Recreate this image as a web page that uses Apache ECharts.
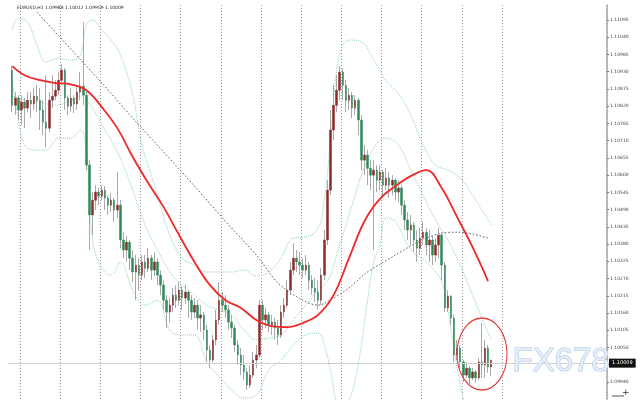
<!DOCTYPE html>
<html><head><meta charset="utf-8">
<script src="https://cdn.jsdelivr.net/npm/echarts@6/dist/echarts.min.js"></script>
<style>html,body{margin:0;padding:0;background:#fff}#c{width:640px;height:400px}</style>
</head><body><div id="c"></div>
<script>
const titleText = 'EURUSD,H1 1.09988 1.10012 1.09959 1.10009';
const lastPrice = 1.10009;
const axisMin = 1.09885, axisMax = 1.11143, tickStep = 0.00055;
const slotCount = 194;

const opens = [
1.10935,1.10823,1.10846,1.10808,1.10833,1.10814,1.10839,1.10827,1.10852,1.10839,
1.10808,1.10769,1.10750,1.10839,1.10852,1.10871,1.10903,1.10935,1.10846,1.10820,
1.10846,1.10827,1.10865,1.10884,1.10855,1.10632,1.10473,1.10520,1.10546,1.10533,
1.10552,1.10527,1.10504,1.10520,1.10489,1.10504,1.10393,1.10361,1.10386,1.10335,
1.10291,1.10313,1.10281,1.10323,1.10303,1.10335,1.10297,1.10323,1.10281,1.10249,
1.10201,1.10163,1.10185,1.10217,1.10201,1.10233,1.10208,1.10227,1.10201,1.10163,
1.10185,1.10144,1.10154,1.10106,1.10042,1.10010,1.10074,1.10138,1.10201,1.10185,
1.10170,1.10131,1.10112,1.10058,1.10026,1.09994,1.09972,1.09930,1.09962,1.10010,
1.10026,1.10185,1.10138,1.10154,1.10122,1.10131,1.10112,1.10090,1.10163,1.10185,
1.10233,1.10297,1.10335,1.10323,1.10313,1.10297,1.10313,1.10265,1.10240,1.10227,
1.10201,1.10281,1.10393,1.10552,1.10744,1.10823,1.10871,1.10929,1.10887,1.10839,
1.10855,1.10814,1.10839,1.10776,1.10648,1.10664,1.10622,1.10600,1.10616,1.10584,
1.10610,1.10568,1.10591,1.10568,1.10584,1.10546,1.10559,1.10504,1.10457,1.10425,
1.10441,1.10393,1.10367,1.10399,1.10418,1.10377,1.10393,1.10345,1.10377,1.10409,
1.10313,1.10176,1.10214,1.10144,1.10026,1.10048,1.10004,1.09962,1.09984,1.09953,
1.09972,1.09953,1.10004,1.09994,1.10048,1.09988];
const highs = [
1.10948,1.10865,1.10855,1.10855,1.10846,1.10865,1.10865,1.10878,1.10887,1.10878,
1.10839,1.10919,1.10865,1.10919,1.10903,1.10929,1.10954,1.10941,1.10855,1.10878,
1.10855,1.10887,1.10929,1.11088,1.10871,1.10648,1.10546,1.10568,1.10559,1.10568,
1.10565,1.10536,1.10543,1.10527,1.10610,1.10520,1.10418,1.10406,1.10393,1.10361,
1.10345,1.10335,1.10345,1.10345,1.10367,1.10345,1.10355,1.10335,1.10297,1.10265,
1.10217,1.10208,1.10240,1.10249,1.10259,1.10246,1.10252,1.10233,1.10217,1.10208,
1.10201,1.10185,1.10163,1.10122,1.10058,1.10090,1.10170,1.10259,1.10227,1.10217,
1.10185,1.10154,1.10122,1.10074,1.10048,1.10026,1.09984,1.09994,1.10036,1.10058,
1.10201,1.10201,1.10176,1.10163,1.10154,1.10144,1.10138,1.10185,1.10208,1.10265,
1.10323,1.10383,1.10361,1.10355,1.10335,1.10345,1.10323,1.10281,1.10272,1.10265,
1.10303,1.10425,1.10584,1.10808,1.10887,1.10919,1.10948,1.10941,1.10903,1.10878,
1.10865,1.10855,1.10846,1.10792,1.10696,1.10680,1.10648,1.10648,1.10632,1.10632,
1.10616,1.10622,1.10610,1.10600,1.10591,1.10584,1.10568,1.10520,1.10482,1.10473,
1.10450,1.10425,1.10431,1.10450,1.10431,1.10425,1.10409,1.10399,1.10431,1.10418,
1.10323,1.10233,1.10217,1.10154,1.10074,1.10058,1.10010,1.10004,1.09991,1.09984,
1.09978,1.10016,1.10128,1.10074,1.10058,1.10012];
const lows = [
1.10801,1.10792,1.10776,1.10760,1.10750,1.10801,1.10782,1.10808,1.10801,1.10744,
1.10728,1.10689,1.10737,1.10814,1.10839,1.10855,1.10887,1.10808,1.10792,1.10801,
1.10798,1.10808,1.10839,1.10823,1.10616,1.10361,1.10409,1.10489,1.10504,1.10520,
1.10489,1.10473,1.10482,1.10450,1.10463,1.10367,1.10335,1.10323,1.10297,1.10259,
1.10201,1.10233,1.10265,1.10272,1.10291,1.10265,1.10278,1.10249,1.10217,1.10170,
1.10112,1.10131,1.10163,1.10176,1.10185,1.10170,1.10189,1.10144,1.10138,1.10144,
1.10106,1.10099,1.10074,1.10004,1.09984,1.10004,1.10058,1.10122,1.10163,1.10144,
1.10106,1.10080,1.10036,1.09994,1.09962,1.09946,1.09914,1.09921,1.09953,1.09984,
1.10016,1.10106,1.10112,1.10099,1.10090,1.10074,1.10058,1.10080,1.10144,1.10176,
1.10217,1.10281,1.10291,1.10281,1.10272,1.10281,1.10233,1.10217,1.10195,1.10170,
1.10185,1.10265,1.10377,1.10536,1.10712,1.10801,1.10839,1.10839,1.10801,1.10808,
1.10782,1.10792,1.10728,1.10616,1.10600,1.10568,1.10552,1.10361,1.10546,1.10552,
1.10536,1.10552,1.10527,1.10536,1.10520,1.10514,1.10473,1.10425,1.10393,1.10377,
1.10355,1.10323,1.10345,1.10377,1.10345,1.10323,1.10313,1.10323,1.10335,1.10265,
1.10163,1.10163,1.10122,1.10004,1.10010,1.09984,1.09940,1.09953,1.09933,1.09946,
1.09937,1.09946,1.09953,1.09953,1.09969,1.09959];
const closes = [
1.10823,1.10846,1.10808,1.10833,1.10814,1.10839,1.10827,1.10852,1.10839,1.10808,
1.10769,1.10750,1.10839,1.10852,1.10871,1.10903,1.10935,1.10846,1.10820,1.10846,
1.10827,1.10865,1.10884,1.10855,1.10632,1.10473,1.10520,1.10546,1.10533,1.10552,
1.10527,1.10504,1.10520,1.10489,1.10504,1.10393,1.10361,1.10386,1.10335,1.10291,
1.10313,1.10281,1.10323,1.10303,1.10335,1.10297,1.10323,1.10281,1.10249,1.10201,
1.10163,1.10185,1.10217,1.10201,1.10233,1.10208,1.10227,1.10201,1.10163,1.10185,
1.10144,1.10154,1.10106,1.10042,1.10010,1.10074,1.10138,1.10201,1.10185,1.10170,
1.10131,1.10112,1.10058,1.10026,1.09994,1.09972,1.09930,1.09962,1.10010,1.10026,
1.10185,1.10138,1.10154,1.10122,1.10131,1.10112,1.10090,1.10163,1.10185,1.10233,
1.10297,1.10335,1.10323,1.10313,1.10297,1.10313,1.10265,1.10240,1.10227,1.10201,
1.10281,1.10393,1.10552,1.10744,1.10823,1.10871,1.10929,1.10887,1.10839,1.10855,
1.10814,1.10839,1.10776,1.10648,1.10664,1.10622,1.10600,1.10616,1.10584,1.10610,
1.10568,1.10591,1.10568,1.10584,1.10546,1.10559,1.10504,1.10457,1.10425,1.10441,
1.10393,1.10367,1.10399,1.10418,1.10377,1.10393,1.10345,1.10377,1.10409,1.10313,
1.10176,1.10214,1.10144,1.10026,1.10048,1.10004,1.09962,1.09984,1.09953,1.09972,
1.09953,1.10004,1.09994,1.10048,1.09988,1.10009];

// moving averages and bands: [bar index, price]
const fastMA = [[1,1.10948],[5,1.10919],[10,1.10903],[15,1.10894],[20,1.10890],[25,1.10871],[30,1.10817],[35,1.10750],[40,1.10658],[45,1.10575],[50,1.10498],[55,1.10409],[60,1.10323],[65,1.10249],[70,1.10201],[75,1.10176],[80,1.10138],[85,1.10118],[90,1.10115],[95,1.10128],[100,1.10154],[105,1.10217],[110,1.10335],[115,1.10453],[120,1.10524],[125,1.10565],[130,1.10597],[135,1.10616],[140,1.10559],[145,1.10466],[150,1.10370],[155,1.10262]];
const slowMA = [[9,1.11120],[20,1.11002],[30,1.10894],[40,1.10782],[50,1.10674],[60,1.10565],[70,1.10453],[80,1.10345],[87,1.10256],[95,1.10201],[100,1.10185],[105,1.10208],[110,1.10240],[115,1.10284],[120,1.10316],[125,1.10345],[130,1.10374],[135,1.10399],[140,1.10415],[145,1.10418],[150,1.10412],[155,1.10399]];
const bandUpper = [[1,1.11063],[3,1.11101],[6,1.11088],[9,1.11015],[12,1.10961],[16,1.10973],[20,1.10967],[23,1.10983],[25,1.11079],[27,1.11095],[30,1.11063],[33,1.11031],[36,1.10983],[40,1.10855],[43,1.10696],[46,1.10600],[48,1.10536],[52,1.10409],[56,1.10335],[60,1.10313],[64,1.10291],[68,1.10291],[72,1.10291],[76,1.10297],[80,1.10278],[84,1.10291],[88,1.10335],[92,1.10399],[96,1.10402],[100,1.10431],[102,1.10520],[104,1.10712],[106,1.10935],[108,1.11015],[110,1.11031],[114,1.11025],[118,1.10967],[120,1.10935],[122,1.10900],[126,1.10860],[130,1.10792],[134,1.10696],[138,1.10632],[142,1.10616],[146,1.10591],[150,1.10536],[153,1.10489],[156,1.10441]];
const bandMiddle = [[1,1.10855],[5,1.10839],[10,1.10833],[15,1.10823],[20,1.10839],[23,1.10849],[25,1.10839],[27,1.10814],[30,1.10760],[33,1.10712],[36,1.10654],[40,1.10552],[44,1.10441],[48,1.10361],[52,1.10291],[56,1.10249],[60,1.10217],[64,1.10185],[68,1.10170],[72,1.10154],[76,1.10106],[80,1.10074],[84,1.10080],[88,1.10090],[92,1.10138],[96,1.10185],[100,1.10233],[102,1.10249],[104,1.10281],[106,1.10345],[108,1.10409],[110,1.10473],[112,1.10536],[114,1.10600],[116,1.10648],[118,1.10686],[120,1.10712],[122,1.10718],[126,1.10696],[130,1.10616],[134,1.10536],[138,1.10457],[142,1.10393],[146,1.10313],[150,1.10217],[153,1.10144],[156,1.10074]];
const bandLower = [[1,1.10903],[3,1.10776],[5,1.10696],[8,1.10680],[12,1.10680],[16,1.10718],[20,1.10718],[23,1.10744],[25,1.10680],[27,1.10393],[30,1.10303],[33,1.10281],[36,1.10323],[40,1.10233],[44,1.10185],[48,1.10201],[52,1.10106],[56,1.10090],[60,1.10090],[64,1.10004],[68,1.09956],[72,1.09914],[76,1.09889],[80,1.09898],[84,1.09978],[88,1.10010],[92,1.10058],[96,1.10090],[100,1.10096],[102,1.10058],[104,1.09978],[106,1.09876],[108,1.09857],[110,1.09882],[112,1.09946],[114,1.10058],[116,1.10201],[118,1.10323],[120,1.10377],[122,1.10463],[125,1.10453],[130,1.10361],[135,1.10323],[140,1.10259],[143,1.10106],[146,1.09930],[148,1.09850]];

const cats = Array.from({length: slotCount}, (_, i) => String(i));
const wickData = ['-'], bodyData = ['-'];
for (let i = 0; i < closes.length; i++) {
  wickData.push([opens[i], closes[i], lows[i], highs[i]]);
  bodyData.push([opens[i], closes[i], Math.min(opens[i], closes[i]), Math.max(opens[i], closes[i])]);
}

const chart = echarts.init(document.getElementById('c'), null, {renderer: 'canvas'});
const bandStyle = {color: '#8fd4b4', width: 1, type: 'dotted'};
chart.setOption({
  animation: false,
  backgroundColor: '#ffffff',
  grid: {left: 7.6, right: 33, top: 5, bottom: 0.8},
  xAxis: {
    type: 'category', data: cats, boundaryGap: true,
    axisLine: {show: false}, axisTick: {show: false}, axisLabel: {show: false},
    splitLine: {show: true, interval: (idx) => idx % 13 === 4 && idx <= 160,
      lineStyle: {color: '#9a9a9a', width: 1, type: [1, 2]}}
  },
  yAxis: {
    type: 'value', position: 'right', min: axisMin, max: axisMax, interval: tickStep,
    axisLine: {show: true, lineStyle: {color: '#a8a8a8', width: 1.5}},
    axisTick: {show: true, length: 2, lineStyle: {color: '#777'}},
    axisLabel: {fontSize: 4.5, color: '#444', margin: 3, fontFamily: 'DejaVu Sans',
      showMinLabel: false, showMaxLabel: false,
      formatter: v => v.toFixed(5)},
    splitLine: {show: false}
  },
  series: [
    {type: 'line', data: bandUpper, smooth: 0.4, symbol: 'none', lineStyle: bandStyle, z: 1},
    {type: 'line', data: bandMiddle, smooth: 0.4, symbol: 'none', lineStyle: bandStyle, z: 1},
    {type: 'line', data: bandLower, smooth: 0.4, symbol: 'none', lineStyle: bandStyle, z: 1},
    {type: 'line', data: slowMA, smooth: 0.3, symbol: 'none', lineStyle: {color: '#555', width: 1, type: [1.5, 2]}, z: 2},
    {type: 'candlestick', data: wickData, barWidth: 1, z: 3,
      itemStyle: {color: '#a9a9a9', color0: '#a9a9a9', borderColor: '#a9a9a9', borderColor0: '#a9a9a9', borderWidth: 1},
      markLine: {symbol: 'none', silent: true, animation: false,
        data: [{yAxis: lastPrice}],
        lineStyle: {color: '#cfcfcf', type: 'solid', width: 1},
        label: {show: true, position: 'end', formatter: lastPrice.toFixed(5), backgroundColor: '#111', color: '#fff',
          fontSize: 5, padding: [2, 3], distance: 2, fontFamily: 'DejaVu Sans'}}},
    {type: 'candlestick', data: bodyData, barWidth: 2, z: 4,
      itemStyle: {color: '#8e2a2a', color0: '#2f8a5a', borderColor: '#8e2a2a', borderColor0: '#2f8a5a', borderWidth: 0.5}},
    {type: 'line', data: fastMA, smooth: 0.4, symbol: 'none', lineStyle: {color: '#f02828', width: 1.8}, z: 5}
  ],
  graphic: [
    {type: 'text', left: 17, top: 5, z: 10, style: {text: titleText, fontSize: 4.5, fill: '#222', fontFamily: 'DejaVu Sans'}},
    {type: 'text', left: 512, top: 345, z: 10, style: {text: 'FX678', fontSize: 33, fontFamily: 'Liberation Sans', fill: '#e4edf8', stroke: '#a6c0e2', lineWidth: 1}},
    {type: 'circle', x: 482, y: 354, scaleX: 25 / 36, scaleY: 1, z: 10, shape: {cx: 0, cy: 0, r: 36},
      style: {fill: 'none', stroke: '#e33b3b', lineWidth: 1.5, strokeNoScale: true}},
    {type: 'line', z: 10, shape: {x1: 612, y1: 396, x2: 624, y2: 396}, style: {stroke: '#555', lineWidth: 1}},
    {type: 'text', left: 622, top: 388, z: 10, style: {text: '+', fontSize: 9, fill: '#333', fontFamily: 'DejaVu Sans'}}
  ]
});
</script></body></html>
